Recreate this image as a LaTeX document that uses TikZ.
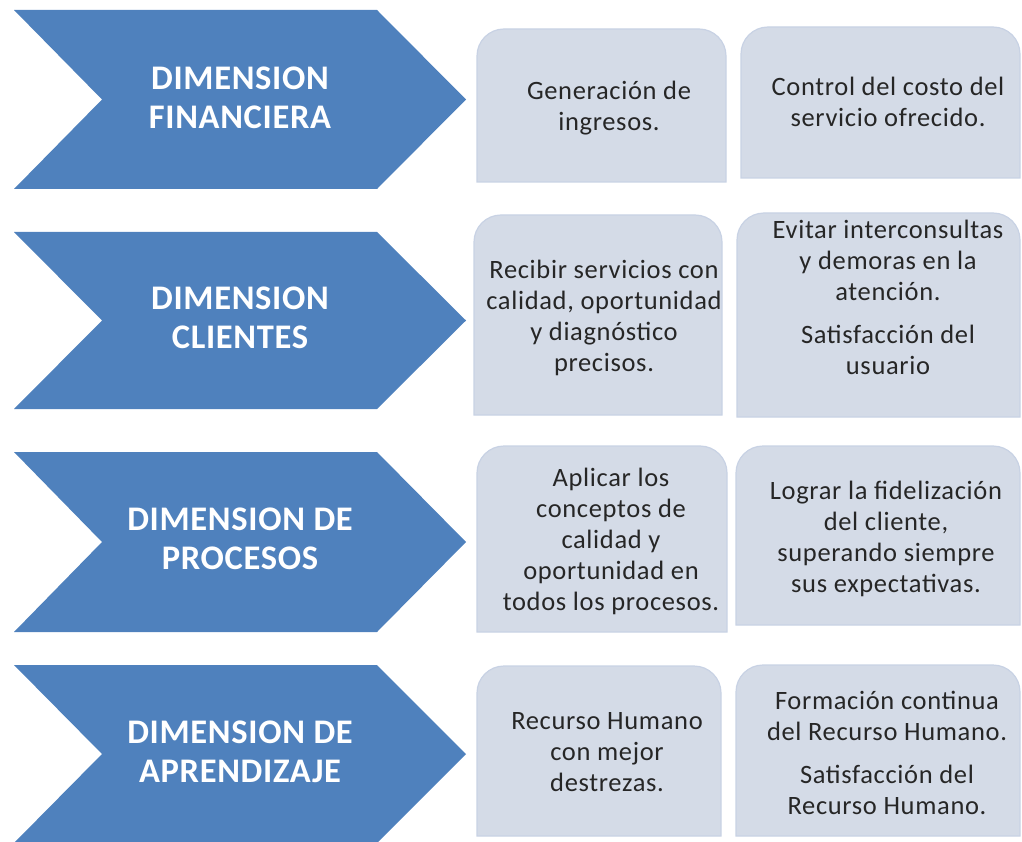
\documentclass[tikz,border=0pt]{standalone}
\usepackage{fontspec}
\setmainfont{Carlito}
\usepackage{xcolor}
\usepackage{tikz}
\definecolor{dimblue}{RGB}{79,129,189}
\definecolor{boxfill}{RGB}{212,219,231}
\definecolor{boxline}{RGB}{200,210,228}
\definecolor{boxtext}{RGB}{38,38,38}

\begin{document}
\begin{tikzpicture}[x=1pt,y=1pt]
                \tikzstyle{every node}+=[inner sep=0pt]
                \tikzstyle{dimtext}=[text=white,align=center,font=\fontsize{34.5}{39}\bfseries\selectfont\addfontfeatures{LetterSpace=2}]
                \tikzstyle{boxtxt}=[text=boxtext,align=center,font=\fontsize{26.5}{31}\selectfont\addfontfeatures{LetterSpace=2.5}]
                \tikzstyle{chev}=[fill=dimblue]
                \tikzstyle{card}=[fill=boxfill,draw=boxline,line width=1.2pt]
                \useasboundingbox (0,0) rectangle (1022,-842);
                % flechas
                \fill [chev] (14,-10) -- (377,-10) -- (466,-99.5) -- (377,-189) -- (14,-189) -- (102,-99.5) -- cycle;
                \fill [chev] (14,-232) -- (377,-232) -- (466,-320.5) -- (377,-409) -- (14,-409) -- (102,-320.5) -- cycle;
                \fill [chev] (14,-452) -- (377,-452) -- (466,-542) -- (377,-632) -- (14,-632) -- (102,-542) -- cycle;
                \fill [chev] (14,-665) -- (377,-665) -- (466,-754) -- (377,-843) -- (14,-843) -- (102,-754) -- cycle;
                \node [dimtext] (fin) at (240,-98) {DIMENSION\\FINANCIERA};
                \node [dimtext] (cli) at (240,-318) {DIMENSION\\CLIENTES};
                \node [dimtext] (pro) at (240,-539) {DIMENSION DE\\PROCESOS};
                \node [dimtext] (apr) at (240,-752) {DIMENSION DE\\APRENDIZAJE};
                % tarjetas
                \draw [card] (477,-182) -- (477,-56) arc (180:90:27) -- (699,-29) arc (90:0:27) -- (726,-182) -- cycle;
                \draw [card] (741,-178) -- (741,-54) arc (180:90:27) -- (993,-27) arc (90:0:27) -- (1020,-178) -- cycle;
                \draw [card] (474,-415) -- (474,-242) arc (180:90:27) -- (695,-215) arc (90:0:27) -- (722,-415) -- cycle;
                \draw [card] (737,-417) -- (737,-240) arc (180:90:27) -- (993,-213) arc (90:0:27) -- (1020,-417) -- cycle;
                \draw [card] (477,-632) -- (477,-473) arc (180:90:27) -- (700,-446) arc (90:0:27) -- (727,-632) -- cycle;
                \draw [card] (736,-625) -- (736,-473) arc (180:90:27) -- (993,-446) arc (90:0:27) -- (1020,-625) -- cycle;
                \draw [card] (477,-836) -- (477,-693) arc (180:90:27) -- (694,-666) arc (90:0:27) -- (721,-836) -- cycle;
                \draw [card] (736,-836) -- (736,-692) arc (180:90:27) -- (993,-665) arc (90:0:27) -- (1020,-836) -- cycle;
                \node [boxtxt] (ingresos) at (609,-108) {Generación de\\ingresos.};
                \node [boxtxt] (costo) at (888,-102) {Control del costo del\\servicio ofrecido.};
                \node [boxtxt] (servicios) at (604,-318) {Recibir servicios con\\calidad, oportunidad\\y diagnóstico\\precisos.};
                \node [boxtxt] (demoras) at (888,-297) {Evitar interconsultas\\y demoras en la\\atención.\\[12pt]Satisfacción del\\usuario};
                \node [boxtxt] (conceptos) at (611,-541) {Aplicar los\\conceptos de\\calidad y\\oportunidad en\\todos los procesos.};
                \node [boxtxt] (fidel) at (886,-539) {Lograr la fidelización\\del cliente,\\superando siempre\\sus expectativas.};
                \node [boxtxt] (destrezas) at (607,-752) {Recurso Humano\\con mejor\\destrezas.};
                \node [boxtxt] (formacion) at (887,-753) {Formación continua\\del Recurso Humano.\\[12pt]Satisfacción del\\Recurso Humano.};
            \end{tikzpicture}
\end{document}
